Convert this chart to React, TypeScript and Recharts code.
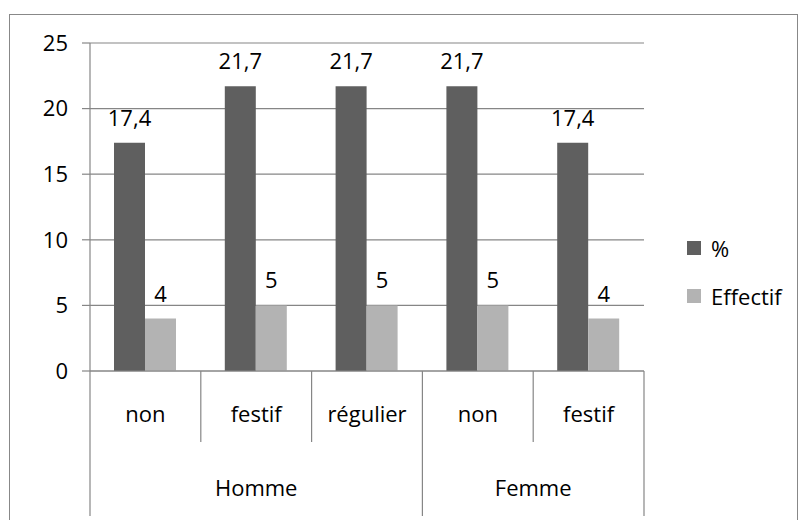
import { Bar, BarChart, CartesianGrid, LabelList, XAxis, YAxis } from "recharts";

const categories = ["non", "festif", "régulier", "non", "festif"];
const groups = ["Homme", "Homme", "Homme", "Femme", "Femme"];
const percent = [17.4, 21.7, 21.7, 21.7, 17.4];
const effectif = [4, 5, 5, 5, 4];
const yTicks = [0, 5, 10, 15, 20, 25];

const series = [
  { key: "%", color: "#5f5f5f" },
  { key: "Effectif", color: "#b3b3b3" },
];

const data = categories.map((name, i) => ({
  key: i,
  name,
  group: groups[i],
  "%": percent[i],
  Effectif: effectif[i],
}));

const W = 800;
const H = 520;
const M = { top: 43, right: 156, bottom: 0, left: 50 };
const Y_AXIS_W = 40;
const X_AXIS_H = 149;
const PLOT_X0 = M.left + Y_AXIS_W;
const PLOT_W = W - PLOT_X0 - M.right;
const AXIS_Y = H - M.bottom - X_AXIS_H;
const BAND = PLOT_W / categories.length;

const font = "'Open Sans', 'Noto Sans', sans-serif";
const FS = 22;
const axisGray = "#868686";

const comma = (v: any) => String(v).replace(".", ",");

function MultiTick(props: any) {
  const { x, index } = props;
  const i = index as number;
  const g = groups[i];
  const first = i === 0 || groups[i - 1] !== g;
  const last = i === groups.length - 1;
  let span = 0;
  while (i + span + 1 < groups.length && groups[i + span + 1] === g) span++;
  const left = x - BAND / 2;
  return (
    <g>
      <line x1={left} x2={left} y1={AXIS_Y} y2={first ? AXIS_Y + 145 : AXIS_Y + 71} stroke={axisGray} strokeWidth={1.2} />
      {last && <line x1={x + BAND / 2} x2={x + BAND / 2} y1={AXIS_Y} y2={AXIS_Y + 145} stroke={axisGray} strokeWidth={1.2} />}
      <text x={x} y={AXIS_Y + 42} textAnchor="middle" dominantBaseline="central" fontSize={FS} fontFamily={font} fill="#000">
        {categories[i]}
      </text>
      {first && (
        <text x={x + (span * BAND) / 2} y={AXIS_Y + 116} textAnchor="middle" dominantBaseline="central" fontSize={FS} fontFamily={font} fill="#000">
          {g}
        </text>
      )}
    </g>
  );
}

export default function App() {
  return (
    <div style={{ position: "absolute", left: 0, top: 0, width: W, height: H, background: "#fff", overflow: "hidden" }}>
      <div style={{ position: "absolute", left: 9, top: 14, width: 787, height: 540, border: "1.5px solid #888" }} />
      <BarChart width={W} height={H} data={data} margin={M} barGap={0} barSize={31}>
        <CartesianGrid vertical={false} stroke={axisGray} strokeWidth={1.2} />
        <XAxis
          dataKey="key"
          height={X_AXIS_H}
          stroke={axisGray}
          strokeWidth={1.2}
          tickLine={false}
          interval={0}
          tick={<MultiTick />}
        />
        <YAxis
          width={Y_AXIS_W}
          domain={[0, 25]}
          ticks={yTicks}
          stroke={axisGray}
          strokeWidth={1.2}
          tickSize={8}
          tickMargin={14}
          tick={{ fontSize: FS, fontFamily: font, fill: "#000" }}
        />
        {series.map((s) => (
          <Bar key={s.key} dataKey={s.key} fill={s.color} isAnimationActive={false}>
            <LabelList dataKey={s.key} position="top" offset={17} formatter={comma} fontSize={FS} fontFamily={font} fill="#000" />
          </Bar>
        ))}
      </BarChart>
      <div style={{ position: "absolute", left: 687, top: 224, fontFamily: font, fontSize: FS, color: "#000" }}>
        {series.map((s) => (
          <div key={s.key} style={{ display: "flex", alignItems: "center", height: 48 }}>
            <span style={{ width: 14, height: 14, background: s.color, marginRight: 10, display: "inline-block" }} />
            {s.key}
          </div>
        ))}
      </div>
    </div>
  );
}
